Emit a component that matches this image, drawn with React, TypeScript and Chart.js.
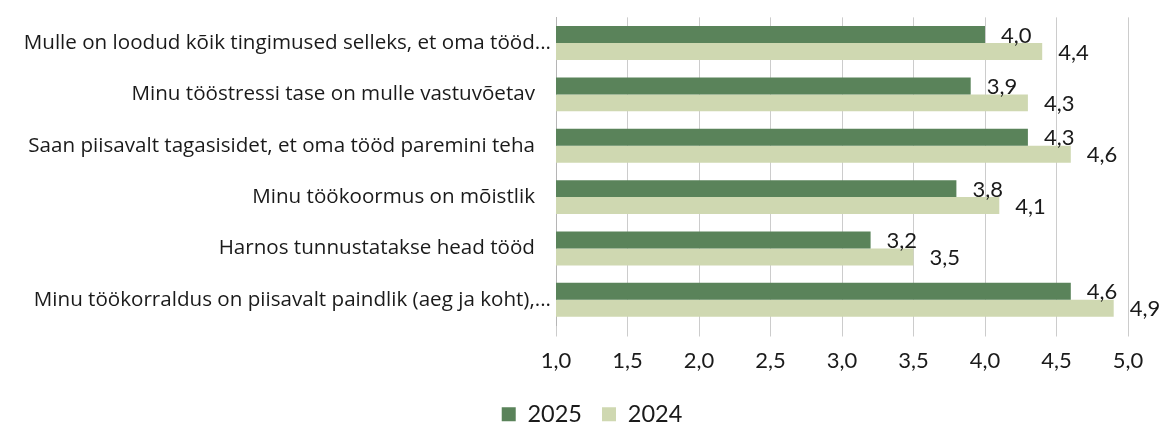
import React, { useEffect, useRef } from "react";
import { Chart, registerables } from "chart.js";

Chart.register(...registerables);

const categories = [
  "Mulle on loodud kõik tingimused selleks, et oma tööd...",
  "Minu tööstressi tase on mulle vastuvõetav   ",
  "Saan piisavalt tagasisidet, et oma tööd paremini teha   ",
  "Minu töökoormus on mõistlik   ",
  "Harnos tunnustatakse head tööd   ",
  "Minu töökorraldus on piisavalt paindlik (aeg ja koht),...",
];

const values2025 = [4.0, 3.9, 4.3, 3.8, 3.2, 4.6];
const values2024 = [4.4, 4.3, 4.6, 4.1, 3.5, 4.9];
const seriesNames = ["2025", "2024"];

const DARK = "#5a835a";
const LIGHT = "#cfd8b1";
const TEXT = "#1a1a1a";
const GRID = "#cccccc";
const NUM_FONT = "Lato";
const CAT_FONT = "Open Sans";

const fmt = (v: number) => v.toFixed(1).replace(".", ",");

const labelPlugin = {
  id: "barValueLabels",
  afterLayout(chart: any) {
    if (chart.legend) {
      chart.legend.left += 28;
      chart.legend.right += 28;
    }
  },
  afterDatasetsDraw(chart: any) {
    const ctx = chart.ctx;
    ctx.save();
    ctx.font = `22px ${NUM_FONT}`;
    ctx.fillStyle = TEXT;
    ctx.textAlign = "left";
    ctx.textBaseline = "middle";
    chart.data.datasets.forEach((ds: any, di: number) => {
      const meta = chart.getDatasetMeta(di);
      meta.data.forEach((bar: any, i: number) => {
        ctx.fillText(fmt(ds.data[i]), bar.x + 16, bar.y + 1);
      });
    });
    ctx.restore();
  },
};

export default function App() {
  const ref = useRef<HTMLCanvasElement | null>(null);

  useEffect(() => {
    document.body.style.margin = "0";
    if (!ref.current) return;
    const chart = new Chart(ref.current, {
      type: "bar",
      data: {
        labels: categories,
        datasets: [
          {
            label: seriesNames[0],
            data: values2025,
            backgroundColor: DARK,
            categoryPercentage: 0.66,
            barPercentage: 1,
          },
          {
            label: seriesNames[1],
            data: values2024,
            backgroundColor: LIGHT,
            categoryPercentage: 0.66,
            barPercentage: 1,
          },
        ],
      },
      options: {
        indexAxis: "y",
        animation: false,
        responsive: true,
        maintainAspectRatio: false,
        layout: { padding: { top: 15, right: 40, left: 0, bottom: 0 } },
        scales: {
          x: {
            min: 1,
            max: 5,
            ticks: {
              stepSize: 0.5,
              callback: (v: any) => fmt(Number(v)),
              font: { family: NUM_FONT, size: 22 },
              color: TEXT,
              padding: 11,
              maxRotation: 0,
            },
            grid: { color: GRID, tickLength: 11, lineWidth: 1 },
            border: { display: false },
            afterFit: (s: any) => {
              s.height = 57;
            },
          },
          y: {
            ticks: {
              font: { family: CAT_FONT, size: 20.6 },
              color: TEXT,
              padding: 5,
            },
            grid: { display: false, drawTicks: false },
            border: { display: true, color: "#b5b5b5", width: 1 },
            afterFit: (s: any) => {
              s.width = 556;
            },
          },
        },
        plugins: {
          legend: {
            position: "bottom",
            labels: {
              boxWidth: 14,
              boxHeight: 14,
              padding: 20,
              font: { family: NUM_FONT, size: 23.5 },
              color: TEXT,
            },
          },
          tooltip: { enabled: false },
        },
      },
      plugins: [labelPlugin],
    });
    return () => chart.destroy();
  }, []);

  return (
    <div style={{ width: 1168, height: 424, overflow: "hidden" }}>
      <div style={{ position: "relative", width: 1168, height: 436 }}>
        <canvas ref={ref} />
      </div>
    </div>
  );
}
